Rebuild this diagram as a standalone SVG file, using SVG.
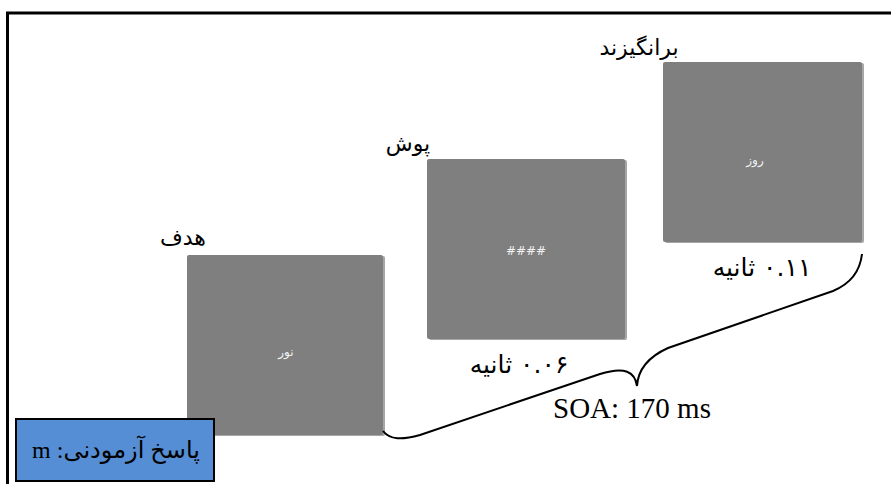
<svg xmlns="http://www.w3.org/2000/svg" width="891" height="484" viewBox="0 0 891 484">
<style>
.frame{fill:none;stroke:#000;stroke-width:3}
.shadow{fill:#a6a6a6}
.sq{fill:#7f7f7f}
.inner{font-family:"DejaVu Sans",sans-serif;font-size:12px;fill:#f2f2f2;text-anchor:middle}
.lbl{font-family:"DejaVu Sans",sans-serif;font-size:22px;fill:#000;text-anchor:middle}
.tm{font-family:"DejaVu Sans",sans-serif;font-size:25px;fill:#000;text-anchor:middle}
.soa{font-family:"Liberation Serif",serif;font-size:29px;fill:#000;text-anchor:middle}
.resp{font-family:"Liberation Serif","DejaVu Sans",serif;font-size:24px;fill:#000;text-anchor:middle}
.brace{fill:none;stroke:#000;stroke-width:2}
</style>
<rect class="frame" x="7.5" y="13" width="900" height="500"/>
<g id="target">
<rect class="shadow" x="189" y="256" width="196" height="180" rx="2"/>
<rect class="sq" x="187" y="255" width="196" height="180" rx="2"/>
<text class="inner" x="286" y="356" direction="rtl">نور</text>
<text class="lbl" x="183" y="245" direction="rtl">هدف</text>
</g>
<g id="mask">
<rect class="shadow" x="429" y="160" width="198" height="180" rx="2"/>
<rect class="sq" x="427" y="159" width="198" height="180" rx="2"/>
<text class="inner" x="526" y="255">####</text>
<text class="lbl" x="408" y="151" direction="rtl">پوش</text>
<text class="tm" x="519" y="373" direction="rtl">۰.۰۶ ثانیه</text>
</g>
<g id="prime">
<rect class="shadow" x="665" y="63" width="199" height="180" rx="2"/>
<rect class="sq" x="663" y="62" width="199" height="180" rx="2"/>
<text class="inner" x="755" y="164" direction="rtl">روز</text>
<text class="lbl" x="639" y="55" direction="rtl">برانگیزند</text>
<text class="tm" x="762" y="276" direction="rtl">۰.۱۱ ثانیه</text>
</g>
<g id="connectors">
<path class="brace" d="M383,431 C390,440 402,440 420,435 L600,374 C625,366 635,372 637,386 C638,370 648,357 668,348 L833,291 C850,284 860,272 862,254"/>
</g>
<g id="soa-label">
<text class="soa" x="632" y="418">SOA: 170 ms</text>
</g>
<g id="response">
<rect x="16" y="419" width="198" height="62" fill="#558ed5" stroke="#000" stroke-width="2"/>
<text class="resp" x="116" y="458" direction="rtl">پاسخ آزمودنی: m</text>
</g>
</svg>
